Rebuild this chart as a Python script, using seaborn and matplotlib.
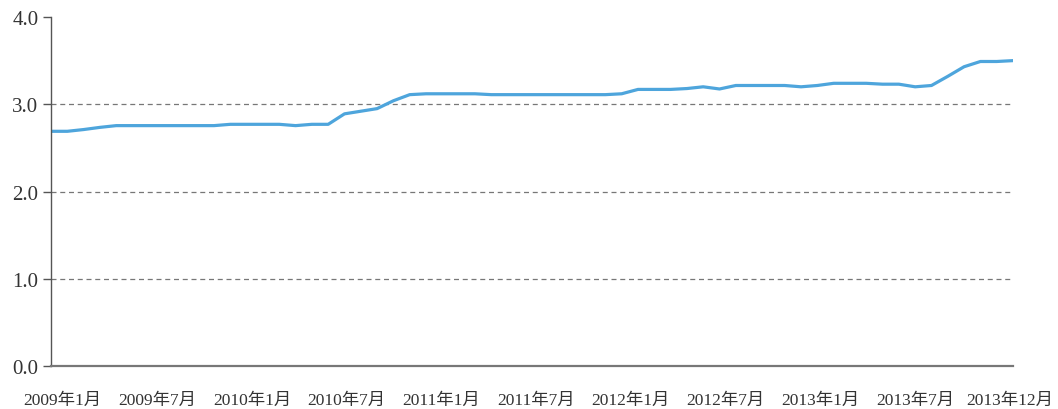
import matplotlib
matplotlib.use("Agg")
import matplotlib.pyplot as plt
import seaborn as sns
import pandas as pd
import numpy as np

months = [f"{y}年{m}月" for y in range(2009, 2014) for m in range(1, 13)]
values = [
    2.69, 2.69, 2.71, 2.735, 2.755, 2.755, 2.755, 2.755, 2.755, 2.755,
    2.755, 2.77, 2.77, 2.77, 2.77, 2.755, 2.77, 2.77, 2.89, 2.92,
    2.95, 3.04, 3.11, 3.12, 3.12, 3.12, 3.12, 3.11, 3.11, 3.11,
    3.11, 3.11, 3.11, 3.11, 3.11, 3.12, 3.17, 3.17, 3.17, 3.18,
    3.20, 3.175, 3.215, 3.215, 3.215, 3.215, 3.20, 3.215, 3.24, 3.24,
    3.24, 3.23, 3.23, 3.20, 3.215, 3.32, 3.43, 3.49, 3.49, 3.50,
]
tick_labels = ["2009年1月", "2009年7月", "2010年1月", "2010年7月", "2011年1月",
               "2011年7月", "2012年1月", "2012年7月", "2013年1月", "2013年7月",
               "2013年12月"]
y_ticks = [0.0, 1.0, 2.0, 3.0, 4.0]

df = pd.DataFrame({"idx": range(len(values)), "month": months, "value": values})

sns.set_theme(style="white")
plt.rcParams['font.family'] = ['Liberation Serif', 'Noto Sans CJK SC']

fig = plt.figure(figsize=(10.58, 4.10), dpi=100)
ax = fig.add_axes([51/1058, 1 - 367/410, (1013 - 51)/1058, (367 - 18)/410])

sns.lineplot(data=df, x="idx", y="value", ax=ax, color="#4EA5DC", linewidth=2.3)

ax.set_ylim(0, 4)
ax.set_xlim(0, len(values) - 1)
ax.set_yticks(y_ticks)
ax.set_yticklabels([f"{v:.1f}" for v in y_ticks], fontsize=15, color="#333333")
# category labels spread evenly along the axis, as in the original layout
tick_pos = np.linspace(0.7, len(values) - 1.2, len(tick_labels))
ax.set_xticks(tick_pos)
ax.set_xticklabels(tick_labels, fontsize=12.5, color="#333333")
ax.set_xlabel("")
ax.set_ylabel("")

for v in y_ticks[1:4]:
    ax.axhline(v, color="#777777", linestyle=(0, (4, 3)), linewidth=0.9, zorder=0)

for s in ["top", "right"]:
    ax.spines[s].set_visible(False)
ax.spines["left"].set_color("#555555")
ax.spines["bottom"].set_color("#777777")
ax.spines["left"].set_linewidth(1.0)
ax.spines["bottom"].set_linewidth(1.6)
ax.tick_params(axis="y", which="both", left=True, length=6, width=1.0, color="#555555", pad=3)
ax.tick_params(axis="x", which="both", bottom=False, pad=13)

fig.savefig("out.png", dpi=100)
